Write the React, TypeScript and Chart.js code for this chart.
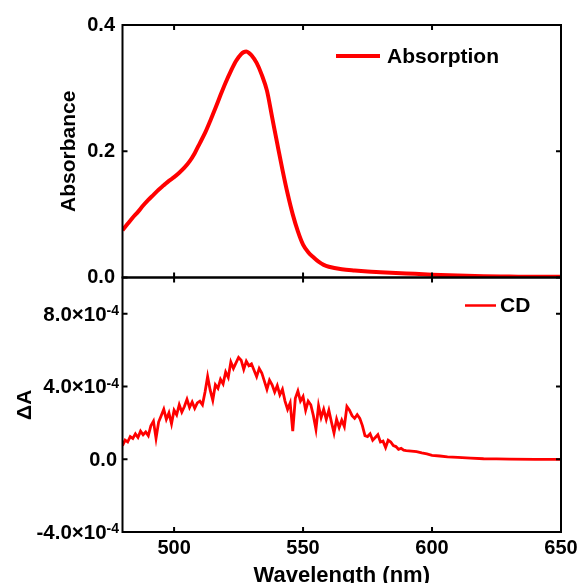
import React, { useEffect, useRef } from "react";
import { Chart, registerables } from "chart.js";
Chart.register(...registerables);

// ---- Data ----
const absWavelengths = [
  480, 482, 484, 486, 488, 490, 492, 494, 496, 498, 500, 502, 504, 506, 508, 510, 512, 514, 516, 518,
  520, 522, 524, 526, 527, 528, 529, 530, 532, 534, 536, 538, 540, 542, 544, 546, 548, 550, 552, 554,
  556, 558, 560, 565, 570, 575, 580, 590, 600, 610, 620, 630, 640, 650,
];
const absValues = [
  0.075, 0.085, 0.095, 0.104, 0.114, 0.123, 0.131, 0.139, 0.146, 0.153, 0.159, 0.166, 0.174, 0.184, 0.197, 0.213, 0.229, 0.248, 0.268, 0.289,
  0.309, 0.327, 0.343, 0.354, 0.357, 0.358, 0.356, 0.352, 0.340, 0.321, 0.296, 0.254, 0.212, 0.171, 0.133, 0.100, 0.073, 0.052, 0.040, 0.032,
  0.025, 0.020, 0.017, 0.013, 0.011, 0.0095, 0.0085, 0.0065, 0.0045, 0.003, 0.002, 0.0015, 0.001, 0.001,
];

const cdWavelengths = [
  480, 481, 482, 483, 484, 485, 486, 487, 488, 489, 490, 491, 492, 493, 494, 495, 496, 497, 498, 499,
  500, 501, 502, 503, 504, 505, 506, 507, 508, 509, 510, 511, 512, 513, 514, 515, 516, 517, 518, 519,
  520, 521, 522, 523, 524, 525, 526, 527, 528, 529, 530, 531, 532, 533, 534, 535, 536, 537, 538, 539,
  540, 541, 542, 543, 544, 545, 546, 547, 548, 549, 550, 551, 552, 553, 554, 555, 556, 557, 558, 559,
  560, 561, 562, 563, 564, 565, 566, 567, 568, 569, 570, 571, 572, 573, 574, 575, 576, 577, 578, 579,
  580, 581, 582, 583, 584, 585, 586, 587, 588, 589, 590, 592, 594, 596, 598, 600, 603, 606, 610, 615,
  620, 625, 630, 640, 650,
];
// CD signal in units of 1e-4
const cdValues = [
  0.75, 1.05, 0.95, 1.25, 1.15, 1.40, 1.20, 1.55, 1.35, 1.50, 1.30, 1.85, 2.10, 1.15, 2.05, 2.40, 2.75, 2.20, 2.55, 1.95,
  2.70, 2.45, 3.00, 2.60, 2.90, 3.30, 2.85, 3.15, 2.80, 3.10, 3.20, 3.00, 3.70, 4.55, 3.80, 3.25, 4.10, 3.90, 4.40, 4.15,
  4.80, 4.50, 5.35, 5.00, 5.30, 5.60, 5.45, 4.95, 5.40, 5.15, 5.25, 4.90, 4.55, 5.00, 4.75, 4.30, 3.85, 4.35, 4.10, 3.70,
  4.05, 3.55, 3.85, 3.20, 2.75, 3.10, 1.55, 3.35, 3.75, 3.20, 3.45, 2.70, 3.20, 3.00, 2.40, 1.65, 2.95, 2.30, 2.75, 2.20,
  2.70, 2.05, 1.45, 2.20, 1.75, 2.15, 1.80, 2.90, 2.70, 2.40, 2.25, 2.45, 2.25, 1.85, 1.30, 1.25, 1.40, 1.05, 1.20, 1.35,
  0.95, 1.00, 0.65, 1.05, 0.95, 0.75, 0.70, 0.55, 0.60, 0.50, 0.48, 0.45, 0.42, 0.35, 0.30, 0.22, 0.18, 0.13, 0.10, 0.06,
  0.03, 0.02, 0.01, 0.0, 0.0,
];

const xTickValues = [500, 550, 600, 650];
const absTickValues = [0, 0.2, 0.4];
const cdTickValues = [-4, 0, 4, 8];

const FONT = "'Liberation Sans', Arial, Helvetica, sans-serif";
const LEFT_W = 122.5;
const RED = "#ff0000";

function framePlugin(yTicks: number[], legend: { label: string; dx0: number; dx1: number; dy: number; lw: number; tx: number }, customY?: (chart: any) => void) {
  return {
    id: "frame",
    afterDraw(chart: any) {
      const { ctx, chartArea: a, scales } = chart;
      ctx.save();
      ctx.strokeStyle = "#000";
      ctx.lineWidth = 2;
      ctx.strokeRect(a.left, a.top, a.right - a.left, a.bottom - a.top);
      const tl = 5;
      ctx.beginPath();
      for (const v of xTickValues) {
        const px = scales.x.getPixelForValue(v);
        ctx.moveTo(px, a.top);
        ctx.lineTo(px, a.top + tl);
        ctx.moveTo(px, a.bottom);
        ctx.lineTo(px, a.bottom - tl);
      }
      for (const v of yTicks) {
        const py = scales.y.getPixelForValue(v);
        ctx.moveTo(a.left, py);
        ctx.lineTo(a.left + tl, py);
        ctx.moveTo(a.right, py);
        ctx.lineTo(a.right - tl, py);
      }
      ctx.stroke();
      // legend
      ctx.strokeStyle = RED;
      ctx.lineWidth = legend.lw;
      ctx.beginPath();
      ctx.moveTo(a.right - legend.dx0, a.top + legend.dy);
      ctx.lineTo(a.right - legend.dx1, a.top + legend.dy);
      ctx.stroke();
      ctx.fillStyle = "#000";
      ctx.font = `bold 21px ${FONT}`;
      ctx.textAlign = "left";
      ctx.textBaseline = "middle";
      ctx.fillText(legend.label, a.right - legend.tx, a.top + legend.dy + 1);
      if (customY) customY(chart);
      ctx.restore();
    },
  };
}

function drawCdLabels(chart: any) {
  const { ctx, scales } = chart;
  for (const v of cdTickValues) {
    const py = scales.y.getPixelForValue(v);
    ctx.fillStyle = "#000";
    ctx.textBaseline = "middle";
    ctx.textAlign = "right";
    if (v === 0) {
      ctx.font = `bold 20px ${FONT}`;
      ctx.fillText("0.0", 117, py + 1);
    } else {
      ctx.font = `bold 14px ${FONT}`;
      const sup = "-4";
      const sw = ctx.measureText(sup).width;
      ctx.textBaseline = "alphabetic";
      ctx.fillText(sup, 119, py + 1);
      ctx.font = `bold 20.5px ${FONT}`;
      ctx.textBaseline = "middle";
      ctx.fillText(v.toFixed(1) + "\u00d710", 119 - sw, py + 1);
    }
  }
}

export default function App() {
  const topRef = useRef<HTMLCanvasElement>(null);
  const botRef = useRef<HTMLCanvasElement>(null);

  useEffect(() => {
    const tickFont = { family: FONT, size: 20, weight: "bold" as const };
    const titleFont = { family: FONT, size: 21, weight: "bold" as const };
    const xTitleFont = { family: FONT, size: 22, weight: "bold" as const };

    const c1 = new Chart(topRef.current!, {
      type: "line",
      data: {
        datasets: [
          {
            data: absWavelengths.map((w, i) => ({ x: w, y: absValues[i] })),
            borderColor: RED,
            borderWidth: 4,
            pointRadius: 0,
            cubicInterpolationMode: "monotone",
            fill: false,
          },
        ],
      },
      options: {
        animation: false,
        responsive: true,
        maintainAspectRatio: false,
        layout: { padding: { left: 0, top: 25, right: 18, bottom: 12.5 } },
        plugins: { legend: { display: false }, tooltip: { enabled: false } },
        scales: {
          x: { type: "linear", min: 480, max: 650, display: false },
          y: {
            type: "linear",
            min: 0,
            max: 0.4,
            afterBuildTicks: (s: any) => {
              s.ticks = absTickValues.map((v) => ({ value: v }));
            },
            afterFit: (s: any) => {
              s.width = LEFT_W;
              s.paddingTop = 0;
              s.paddingBottom = 0;
            },
            grid: { display: false, drawTicks: false },
            border: { display: false },
            ticks: {
              font: tickFont,
              color: "#000",
              padding: 7.5,
              callback: (v: any) => Number(v).toFixed(1),
            },
            title: { display: true, text: "Absorbance", font: titleFont, color: "#000", padding: { top: 57, bottom: 0 } },
          },
        },
      },
      plugins: [framePlugin(absTickValues, { label: "Absorption", dx0: 225, dx1: 181, dy: 31, lw: 4, tx: 174 })],
    } as any);

    const c2 = new Chart(botRef.current!, {
      type: "line",
      data: {
        datasets: [
          {
            data: cdWavelengths.map((w, i) => ({ x: w, y: cdValues[i] })),
            borderColor: RED,
            borderWidth: 2.8,
            pointRadius: 0,
            tension: 0,
            fill: false,
          },
        ],
      },
      options: {
        animation: false,
        responsive: true,
        maintainAspectRatio: false,
        layout: { padding: { left: 0, top: 12.5, right: 18, bottom: 0 } },
        plugins: { legend: { display: false }, tooltip: { enabled: false } },
        scales: {
          x: {
            type: "linear",
            min: 480,
            max: 650,
            afterBuildTicks: (s: any) => {
              s.ticks = xTickValues.map((v) => ({ value: v }));
            },
            afterFit: (s: any) => {
              s.height = 51;
              s.paddingLeft = 0;
              s.paddingRight = 0;
            },
            grid: { display: false, drawTicks: false },
            border: { display: false },
            ticks: { font: tickFont, color: "#000", padding: 4.5, maxRotation: 0, callback: (v: any) => String(v) },
            title: { display: true, text: "Wavelength (nm)", font: xTitleFont, color: "#000", padding: { top: 0, bottom: -6 } },
          },
          y: {
            type: "linear",
            min: -4,
            max: 10,
            afterBuildTicks: (s: any) => {
              s.ticks = cdTickValues.map((v) => ({ value: v }));
            },
            afterFit: (s: any) => {
              s.width = LEFT_W;
              s.paddingTop = 0;
              s.paddingBottom = 0;
            },
            grid: { display: false, drawTicks: false },
            border: { display: false },
            ticks: { display: false },
            title: { display: true, text: "\u0394A", font: titleFont, color: "#000", padding: { top: 12.5, bottom: 0 } },
          },
        },
      },
      plugins: [framePlugin(cdTickValues, { label: "CD", dx0: 96, dx1: 65, dy: 28, lw: 2.5, tx: 61 }, drawCdLabels)],
    } as any);

    return () => {
      c1.destroy();
      c2.destroy();
    };
  }, []);

  return (
    <div style={{ position: "fixed", left: 0, top: 0, width: 579, height: 583, background: "#fff" }}>
      <div style={{ position: "absolute", left: 0, top: 0, width: 579, height: 290 }}>
        <canvas ref={topRef} />
      </div>
      <div style={{ position: "absolute", left: 0, top: 265, width: 579, height: 318 }}>
        <canvas ref={botRef} />
      </div>
    </div>
  );
}
